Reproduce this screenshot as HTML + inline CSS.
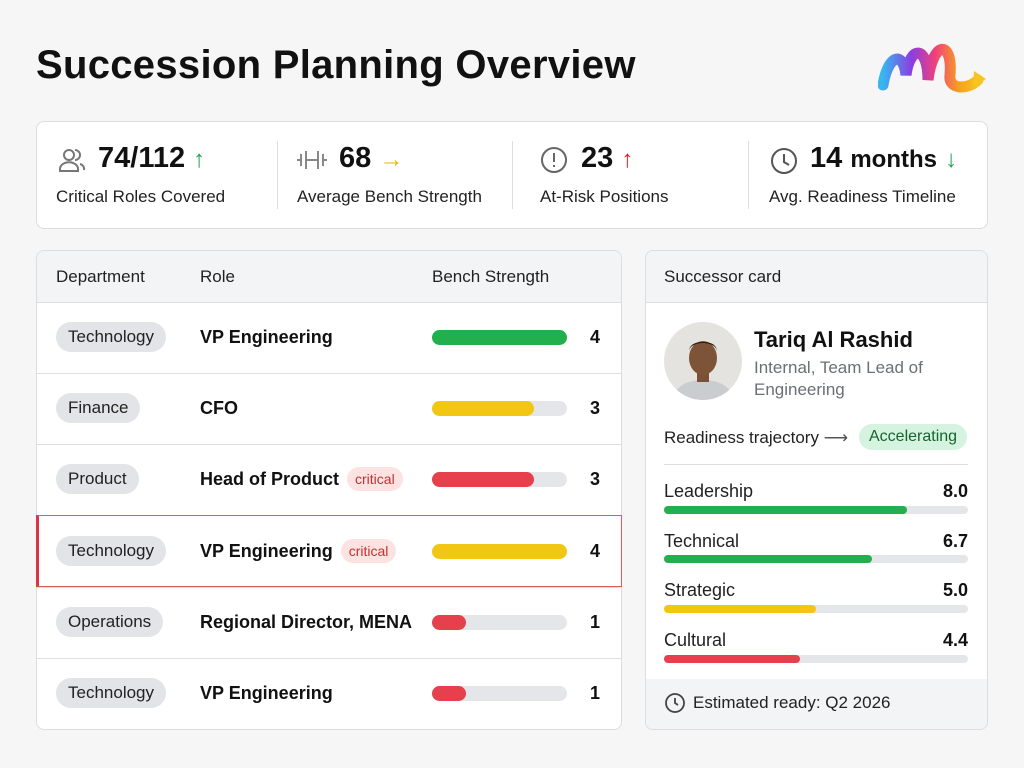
<!DOCTYPE html>
<html><head><meta charset="utf-8"><style>
*{margin:0;padding:0;box-sizing:border-box}
body{width:1024px;height:768px;background:#f6f6f7;font-family:"Liberation Sans",sans-serif;color:#111;position:relative;overflow:hidden}
.a{position:absolute}
.card{position:absolute;background:#fff;border:1px solid #dcdde0;border-radius:8px;overflow:hidden}
.kv{font-size:29px;font-weight:bold;color:#111}
.kl{font-size:17px;color:#222}
.pill{position:absolute;background:#e3e4e7;border-radius:15px;font-size:17px;color:#222;height:30px;line-height:30px;padding:0 12px}
.role{position:absolute;font-size:18px;font-weight:bold;display:flex;align-items:center;height:30px}
.crit{display:inline-block;background:#fde2e2;color:#c53030;font-size:14px;font-weight:normal;border-radius:12px;padding:0 8px;height:24px;line-height:24px;margin-left:8px}
.track{position:absolute;left:432px;width:135px;height:15px;background:#e5e6e9;border-radius:8px}
.fill{height:15px;border-radius:8px}
.num{position:absolute;left:590px;font-size:18px;font-weight:bold}
.hr{position:absolute;left:37px;width:584px;height:1px;background:#dcdde0}
.sl{position:absolute;left:664px;font-size:18px;color:#222}
.sv{position:absolute;right:56px;font-size:18px;font-weight:bold}
.st{position:absolute;left:664px;width:304px;height:8px;background:#e5e6e9;border-radius:4px}
.st div{height:8px;border-radius:4px}
</style></head><body>
<div class="a" style="left:36px;top:43px;font-size:40px;font-weight:bold;letter-spacing:0.3px">Succession Planning Overview</div>
<svg class="a" style="left:878px;top:35px" width="112" height="62" viewBox="0 0 112 62">
<defs><linearGradient id="g" x1="0" x2="1"><stop offset="0" stop-color="#38b6f0"/><stop offset=".3" stop-color="#8b3ee0"/><stop offset=".55" stop-color="#f0407a"/><stop offset=".8" stop-color="#f7a020"/><stop offset="1" stop-color="#f7c520"/></linearGradient></defs>
<path d="M5 50 C10 20 25 15 28 40 C32 10 50 10 50 45 C55 5 75 5 72 40 C70 55 90 55 100 45" fill="none" stroke="url(#g)" stroke-width="11" stroke-linecap="round"/>
<path d="M96 36 L108 44 L95 52Z" fill="#f7c520"/></svg>

<div class="card" style="left:36px;top:121px;width:952px;height:108px"></div>
<div class="a" style="left:277px;top:141px;width:1px;height:68px;background:#dcdde0"></div>
<div class="a" style="left:512px;top:141px;width:1px;height:68px;background:#dcdde0"></div>
<div class="a" style="left:748px;top:141px;width:1px;height:68px;background:#dcdde0"></div>
<svg class="a" style="left:58px;top:147px" width="28" height="26" fill="none" stroke="#777" stroke-width="2"><circle cx="11" cy="8" r="5"/><path d="M2 24v-2a8 6 0 0 1 18 0v2zM17 3a5 5 0 0 1 0 10M22 17a5 5 0 0 1 4 6"/></svg>
<div class="a kv" style="left:98px;top:142px">74/112 <span style="color:#22a652;font-size:24px">↑</span></div>
<div class="a kl" style="left:56px;top:187px">Critical Roles Covered</div>
<svg class="a" style="left:296px;top:148px" width="32" height="24" fill="none" stroke="#888" stroke-width="2"><path d="M1 12h4M5 6v12M10 3v18M10 12h12M22 3v18M27 6v12M27 12h4"/></svg>
<div class="a kv" style="left:339px;top:142px">68 <span style="color:#eab308;font-size:24px">→</span></div>
<div class="a kl" style="left:297px;top:187px">Average Bench Strength</div>
<svg class="a" style="left:540px;top:146px" width="28" height="28" fill="none" stroke="#666" stroke-width="2"><circle cx="14" cy="14" r="12"/><path d="M14 7v9M14 19v2"/></svg>
<div class="a kv" style="left:581px;top:142px">23 <span style="color:#dc2626;font-size:24px">↑</span></div>
<div class="a kl" style="left:540px;top:187px">At-Risk Positions</div>
<svg class="a" style="left:769px;top:146px" width="30" height="30" fill="none" stroke="#555" stroke-width="2"><circle cx="15" cy="15" r="12"/><path d="M15 8v8l5 3"/></svg>
<div class="a kv" style="left:810px;top:142px">14 <span style="font-size:24px">months</span> <span style="color:#22a652;font-size:24px">↓</span></div>
<div class="a kl" style="left:769px;top:187px">Avg. Readiness Timeline</div>

<div class="card" style="left:36px;top:250px;width:586px;height:480px"><div style="height:52px;background:#f3f4f6;border-bottom:1px solid #dcdde0"></div></div>
<div class="a" style="left:56px;top:267px;font-size:17px;color:#222">Department</div>
<div class="a" style="left:200px;top:267px;font-size:17px;color:#222">Role</div>
<div class="a" style="left:432px;top:267px;font-size:17px;color:#222">Bench Strength</div>
<div class="hr" style="top:373px"></div><div class="hr" style="top:444px"></div><div class="hr" style="top:515px"></div><div class="hr" style="top:587px"></div><div class="hr" style="top:658px"></div>
<div class="a" style="left:36px;top:515px;width:586px;height:72px;border:1px solid #e05a5a;border-left:3px solid #dc3545"></div>

<div class="pill" style="left:56px;top:322px">Technology</div><div class="role" style="left:200px;top:322px">VP Engineering</div>
<div class="track" style="top:330px"><div class="fill" style="width:135px;background:#22b04e"></div></div><div class="num" style="top:327px">4</div>
<div class="pill" style="left:56px;top:393px">Finance</div><div class="role" style="left:200px;top:393px">CFO</div>
<div class="track" style="top:401px"><div class="fill" style="width:102px;background:#f2c714"></div></div><div class="num" style="top:398px">3</div>
<div class="pill" style="left:56px;top:464px">Product</div><div class="role" style="left:200px;top:464px">Head of Product<span class="crit">critical</span></div>
<div class="track" style="top:472px"><div class="fill" style="width:102px;background:#e5404c"></div></div><div class="num" style="top:469px">3</div>
<div class="pill" style="left:56px;top:536px">Technology</div><div class="role" style="left:200px;top:536px">VP Engineering<span class="crit">critical</span></div>
<div class="track" style="top:544px"><div class="fill" style="width:135px;background:#f2c714"></div></div><div class="num" style="top:541px">4</div>
<div class="pill" style="left:56px;top:607px">Operations</div><div class="role" style="left:200px;top:607px">Regional Director, MENA</div>
<div class="track" style="top:615px"><div class="fill" style="width:34px;background:#e5404c"></div></div><div class="num" style="top:612px">1</div>
<div class="pill" style="left:56px;top:678px">Technology</div><div class="role" style="left:200px;top:678px">VP Engineering</div>
<div class="track" style="top:686px"><div class="fill" style="width:34px;background:#e5404c"></div></div><div class="num" style="top:683px">1</div>

<div class="card" style="left:645px;top:250px;width:343px;height:480px"><div style="height:52px;background:#f3f4f6;border-bottom:1px solid #dcdde0"></div><div style="position:absolute;top:428px;left:0;right:0;height:52px;background:#f3f4f6"></div></div>
<div class="a" style="left:664px;top:267px;font-size:17px;color:#222">Successor card</div>
<svg class="a" style="left:664px;top:322px" width="78" height="78"><defs><clipPath id="c"><circle cx="39" cy="39" r="39"/></clipPath></defs><g clip-path="url(#c)"><rect width="78" height="78" fill="#e4e3e0"/><path d="M8 78c4-16 18-20 31-20s27 4 31 20z" fill="#c9cdd0"/><rect x="33" y="48" width="12" height="12" fill="#7a5136"/><ellipse cx="39" cy="36" rx="14" ry="17" fill="#7d5438"/><path d="M25 30c0-12 28-12 28 0c0-6-4-10-14-10s-14 4-14 10z" fill="#2a1c14"/></g></svg>
<div class="a" style="left:754px;top:327px;font-size:22px;font-weight:bold">Tariq Al Rashid</div>
<div class="a" style="left:754px;top:357px;font-size:17px;color:#6b6f76;line-height:22px">Internal, Team Lead of<br>Engineering</div>
<div class="a" style="left:664px;top:428px;font-size:17px;color:#222">Readiness trajectory <span style="color:#555">⟶</span></div>
<div class="a" style="left:859px;top:424px;background:#d5f3df;color:#16632f;font-size:16px;border-radius:13px;padding:0 10px;height:26px;line-height:26px">Accelerating</div>
<div class="a" style="left:664px;top:464px;width:304px;height:1px;background:#dcdde0"></div>
<div class="sl" style="top:481px">Leadership</div><div class="sv" style="top:481px">8.0</div><div class="st" style="top:506px"><div style="width:243px;background:#22b04e"></div></div>
<div class="sl" style="top:531px">Technical</div><div class="sv" style="top:531px">6.7</div><div class="st" style="top:555px"><div style="width:208px;background:#22b04e"></div></div>
<div class="sl" style="top:580px">Strategic</div><div class="sv" style="top:580px">5.0</div><div class="st" style="top:605px"><div style="width:152px;background:#f2c714"></div></div>
<div class="sl" style="top:630px">Cultural</div><div class="sv" style="top:630px">4.4</div><div class="st" style="top:655px"><div style="width:136px;background:#e5404c"></div></div>
<svg class="a" style="left:664px;top:692px" width="22" height="22" fill="none" stroke="#444" stroke-width="1.8"><circle cx="11" cy="11" r="9"/><path d="M11 6v5l3 2"/></svg>
<div class="a" style="left:693px;top:693px;font-size:17px;color:#222">Estimated ready: Q2 2026</div>
</body></html>
